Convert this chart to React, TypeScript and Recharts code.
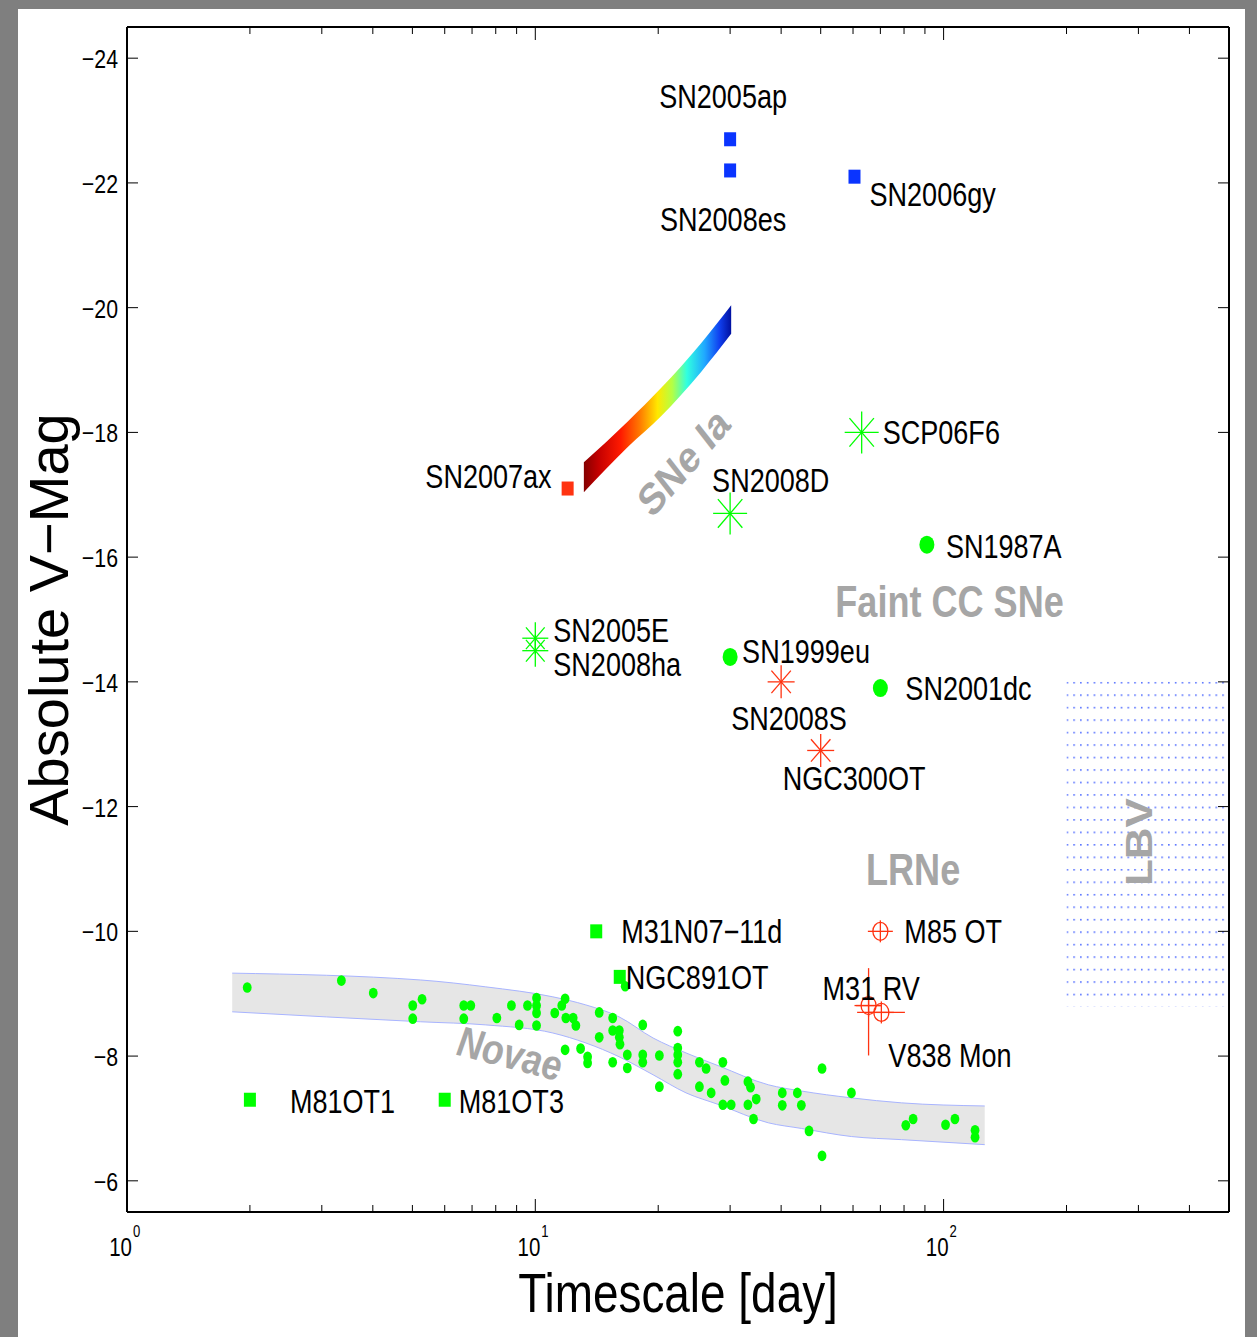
import React from "react";
import {
  ComposedChart,
  Area,
  Scatter,
  XAxis,
  YAxis,
  ReferenceArea,
  ErrorBar,
  Label,
} from "recharts";

const GREEN = "#00ff00";
const RED = "#ff3311";
const BLUE = "#0a34ff";
const REGION_GREY = "#a6a6a6";
const FONT = '"Liberation Sans", Arial, Helvetica, sans-serif';
// Helvetica-style lettering is drawn horizontally condensed
const SQUEEZE = 0.82;

// axis ticks (log x with minor ticks, reversed magnitude y)
const xTicks = [1, 2, 3, 4, 5, 6, 7, 8, 9, 10, 20, 30, 40, 50, 60, 70, 80, 90, 100, 200, 300, 400, 500];
const xMajor = [1, 10, 100];
const yTicks = [-24, -22, -20, -18, -16, -14, -12, -10, -8, -6];

// superluminous SNe
const superluminous = [
  { name: "SN2005ap", t: 30, mag: -22.7 },
  { name: "SN2008es", t: 30, mag: -22.2 },
  { name: "SN2006gy", t: 60.5, mag: -22.1 },
];

const sn2007ax = [{ name: "SN2007ax", t: 12, mag: -17.1 }];

const brightStars = [
  { name: "SCP06F6", t: 63, mag: -18.0 },
  { name: "SN2008D", t: 30, mag: -16.7 },
];

const faintStars = [
  { name: "SN2005E", t: 10, mag: -14.7 },
  { name: "SN2008ha", t: 10, mag: -14.5 },
];

const ccDots = [
  { name: "SN1987A", t: 91, mag: -16.2 },
  { name: "SN1999eu", t: 30, mag: -14.4 },
  { name: "SN2001dc", t: 70, mag: -13.9 },
];

const redStars = [
  { name: "SN2008S", t: 40, mag: -14.0 },
  { name: "NGC300OT", t: 50, mag: -12.9 },
];

const greenSquares = [
  { name: "M31N07\u221211d", t: 14.1, mag: -10.0 },
  { name: "NGC891OT", t: 16.1, mag: -9.27 },
  { name: "M81OT1", t: 2.0, mag: -7.3 },
  { name: "M81OT3", t: 6.0, mag: -7.3 },
];

// luminous red novae, with errors [minus, plus]
const lrne = [
  { name: "M85 OT", t: 70, mag: -10.0, tErr: [0, 0], magErr: [0, 0] },
  { name: "M31 RV", t: 65.5, mag: -8.81, tErr: [5, 5], magErr: [0.6, 0.8] },
  { name: "V838 Mon", t: 70.4, mag: -8.7, tErr: [9, 10], magErr: [0, 0] },
];

// classical novae
const novae = [
  { t: 1.97, mag: -9.1 }, { t: 3.35, mag: -9.21 }, { t: 4.01, mag: -9.01 },
  { t: 5.01, mag: -8.81 }, { t: 5.28, mag: -8.91 }, { t: 5.01, mag: -8.6 },
  { t: 6.68, mag: -8.81 }, { t: 6.95, mag: -8.81 }, { t: 6.68, mag: -8.6 },
  { t: 8.05, mag: -8.61 }, { t: 8.74, mag: -8.81 }, { t: 9.13, mag: -8.5 },
  { t: 9.57, mag: -8.81 }, { t: 10.07, mag: -8.93 }, { t: 10.07, mag: -8.81 },
  { t: 10.07, mag: -8.69 }, { t: 10.07, mag: -8.49 }, { t: 11.83, mag: -8.92 },
  { t: 11.61, mag: -8.81 }, { t: 11.16, mag: -8.69 }, { t: 11.88, mag: -8.61 },
  { t: 12.38, mag: -8.61 }, { t: 12.57, mag: -8.49 }, { t: 11.83, mag: -8.1 },
  { t: 12.91, mag: -8.12 }, { t: 13.43, mag: -7.99 }, { t: 13.43, mag: -7.89 },
  { t: 14.34, mag: -8.7 }, { t: 14.34, mag: -8.3 }, { t: 15.47, mag: -8.61 },
  { t: 15.47, mag: -8.41 }, { t: 16.06, mag: -8.41 }, { t: 16.06, mag: -8.3 },
  { t: 16.12, mag: -8.19 }, { t: 15.47, mag: -7.9 }, { t: 16.8, mag: -8.02 },
  { t: 16.8, mag: -7.81 }, { t: 16.6, mag: -9.12 }, { t: 18.33, mag: -8.5 },
  { t: 18.33, mag: -8.02 }, { t: 18.33, mag: -7.9 }, { t: 20.13, mag: -8.01 },
  { t: 20.13, mag: -7.51 }, { t: 22.33, mag: -8.4 }, { t: 22.33, mag: -8.13 },
  { t: 22.33, mag: -8.02 }, { t: 22.33, mag: -7.9 }, { t: 22.33, mag: -7.71 },
  { t: 25.23, mag: -7.9 }, { t: 26.2, mag: -7.8 }, { t: 25.23, mag: -7.51 },
  { t: 26.96, mag: -7.41 }, { t: 28.8, mag: -7.9 }, { t: 29.13, mag: -7.61 },
  { t: 28.8, mag: -7.22 }, { t: 30.18, mag: -7.22 }, { t: 33.17, mag: -7.59 },
  { t: 33.66, mag: -7.5 }, { t: 34.76, mag: -7.31 }, { t: 33.17, mag: -7.22 },
  { t: 34.23, mag: -6.99 }, { t: 40.26, mag: -7.41 }, { t: 40.26, mag: -7.21 },
  { t: 43.83, mag: -7.41 }, { t: 44.83, mag: -7.21 }, { t: 46.82, mag: -6.8 },
  { t: 50.38, mag: -7.8 }, { t: 50.38, mag: -6.4 }, { t: 59.46, mag: -7.41 },
  { t: 80.8, mag: -6.89 }, { t: 84.2, mag: -6.99 }, { t: 101.1, mag: -6.9 },
  { t: 106.6, mag: -6.99 }, { t: 119.4, mag: -6.81 }, { t: 119.4, mag: -6.7 },
];

// novae locus: [faint edge, bright edge]
const novaeBand = [
  { t: 1.81, range: [-8.71, -9.33] },
  { t: 5.24, range: [-8.55, -9.22] },
  { t: 7.56, range: [-8.5, -9.11] },
  { t: 11.04, range: [-8.37, -8.95] },
  { t: 13.3, range: [-8.21, -8.82] },
  { t: 16.03, range: [-7.99, -8.63] },
  { t: 19.43, range: [-7.7, -8.29] },
  { t: 23.4, range: [-7.41, -8.05] },
  { t: 28.2, range: [-7.22, -7.84] },
  { t: 37.21, range: [-6.93, -7.54] },
  { t: 44.83, range: [-6.84, -7.44] },
  { t: 59.46, range: [-6.71, -7.33] },
  { t: 78.86, range: [-6.66, -7.25] },
  { t: 126.1, range: [-6.58, -7.2] },
];

// SNe Ia width-luminosity strip
const iaBand = [
  { t: 13.15, range: [-17.04, -17.52] },
  { t: 16.87, range: [-17.77, -18.18] },
  { t: 20.32, range: [-18.26, -18.71] },
  { t: 25.47, range: [-18.97, -19.43] },
  { t: 30.18, range: [-19.58, -20.04] },
];

const regionLabels = [
  { text: "SNe Ia", t: 23.1, mag: -17.52 },
  { text: "Faint CC SNe", t: 103.4, mag: -15.28 },
  { text: "LRNe", t: 84.2, mag: -10.98 },
  { text: "Novae", t: 8.66, mag: -8.05 },
];

const regionStyle: Record<string, { angle: number; size: number; italic: boolean }> = {
  "SNe Ia": { angle: -43.5, size: 44, italic: false },
  "Faint CC SNe": { angle: 0, size: 44, italic: false },
  LRNe: { angle: 0, size: 44, italic: false },
  Novae: { angle: 12, size: 43, italic: true },
};

// text offsets from each marker, in px
const labelPlacement: Record<string, { dx: number; dy: number; anchor: "start" | "middle" | "end" }> = {
  SN2005ap: { dx: -7, dy: -31, anchor: "middle" },
  SN2008es: { dx: -7, dy: 61, anchor: "middle" },
  SN2006gy: { dx: 15, dy: 29, anchor: "start" },
  SN2007ax: { dx: -16, dy: -1, anchor: "end" },
  SCP06F6: { dx: 21, dy: 12, anchor: "start" },
  SN2008D: { dx: -18, dy: -21, anchor: "start" },
  SN1987A: { dx: 19, dy: 13, anchor: "start" },
  SN2005E: { dx: 18, dy: 4, anchor: "start" },
  SN2008ha: { dx: 18, dy: 25, anchor: "start" },
  SN1999eu: { dx: 12, dy: 6, anchor: "start" },
  SN2008S: { dx: -50, dy: 48, anchor: "start" },
  SN2001dc: { dx: 25, dy: 12, anchor: "start" },
  NGC300OT: { dx: -38, dy: 40, anchor: "start" },
  "M31N07\u221211d": { dx: 25, dy: 12, anchor: "start" },
  NGC891OT: { dx: 6, dy: 12, anchor: "start" },
  "M85 OT": { dx: 24, dy: 12, anchor: "start" },
  "M31 RV": { dx: -46, dy: -6, anchor: "start" },
  "V838 Mon": { dx: 7, dy: 55, anchor: "start" },
  M81OT1: { dx: 40, dy: 13, anchor: "start" },
  M81OT3: { dx: 14, dy: 13, anchor: "start" },
};

// condensed text anchored at (x, y), optionally rotated before squeezing
const NText = ({ x, y, size, anchor = "start", angle = 0, children, ...rest }: any) => (
  <text
    transform={`translate(${x} ${y}) scale(${SQUEEZE} 1)${angle ? ` rotate(${angle})` : ""}`}
    x={0}
    y={0}
    textAnchor={anchor}
    fontFamily={FONT}
    fontSize={size}
    {...rest}
  >
    {children}
  </text>
);

const pointLabel = (name: string, cx: number, cy: number) => {
  const p = labelPlacement[name];
  if (!p) return null;
  return (
    <NText x={cx + p.dx} y={cy + p.dy} anchor={p.anchor} size={33} fill="#000">
      {name}
    </NText>
  );
};

const square = (color: string) => (props: any) => {
  const { cx, cy, payload } = props;
  return (
    <g>
      <rect x={cx - 6} y={cy - 7} width={12} height={14} fill={color} />
      {pointLabel(payload.name, cx, cy)}
    </g>
  );
};

const dot = (rx: number, ry: number) => (props: any) => {
  const { cx, cy, payload } = props;
  return (
    <g>
      <ellipse cx={cx} cy={cy} rx={rx} ry={ry} fill={GREEN} />
      {payload.name ? pointLabel(payload.name, cx, cy) : null}
    </g>
  );
};

const asterisk = (color: string, w: number, h: number) => (props: any) => {
  const { cx, cy, payload } = props;
  const dx = w * 0.72;
  const dy = h * 0.68;
  return (
    <g>
      <g stroke={color} strokeWidth={1.3}>
        <line x1={cx - w} y1={cy} x2={cx + w} y2={cy} />
        <line x1={cx} y1={cy - h} x2={cx} y2={cy + h} />
        <line x1={cx - dx} y1={cy - dy} x2={cx + dx} y2={cy + dy} />
        <line x1={cx - dx} y1={cy + dy} x2={cx + dx} y2={cy - dy} />
      </g>
      {pointLabel(payload.name, cx, cy)}
    </g>
  );
};

const circlePlus = (props: any) => {
  const { cx, cy, payload } = props;
  return (
    <g>
      <g stroke={RED} strokeWidth={1.3} fill="none">
        <ellipse cx={cx} cy={cy} rx={7.5} ry={9} />
        <line x1={cx - 12.5} y1={cy} x2={cx + 12.5} y2={cy} />
        <line x1={cx} y1={cy - 11} x2={cx} y2={cy + 11} />
      </g>
      {pointLabel(payload.name, cx, cy)}
    </g>
  );
};

const regionText = (props: any) => {
  const { cx, cy, payload } = props;
  const s = regionStyle[payload.text];
  return (
    <NText
      x={cx}
      y={cy}
      angle={s.angle}
      anchor="middle"
      size={s.size}
      dominantBaseline="central"
      fontWeight="bold"
      fontStyle={s.italic ? "italic" : "normal"}
      fill={REGION_GREY}
    >
      {payload.text}
    </NText>
  );
};

const minus = (v: number) => (v < 0 ? `\u2212${Math.abs(v)}` : `${v}`);

const BottomTick = (props: any) => {
  const { x, y, payload } = props;
  const major = xMajor.includes(payload.value);
  return (
    <g>
      <line x1={x} y1={y} x2={x} y2={y - (major ? 13 : 7)} stroke="#000" strokeWidth={1} />
      {major && (
        <g fill="#000">
          <NText x={x + 5} y={y + 44} anchor="end" size={25}>10</NText>
          <NText x={x + 6} y={y + 25} anchor="start" size={16}>
            {Math.round(Math.log10(payload.value))}
          </NText>
        </g>
      )}
    </g>
  );
};

const TopTick = (props: any) => {
  const { x, y, payload } = props;
  const major = xMajor.includes(payload.value);
  return <line x1={x} y1={y} x2={x} y2={y + (major ? 13 : 7)} stroke="#000" strokeWidth={1} />;
};

const LeftTick = (props: any) => {
  const { x, y, payload } = props;
  return (
    <g>
      <line x1={x} y1={y} x2={x + 11} y2={y} stroke="#000" strokeWidth={1} />
      <NText x={x - 9} y={y + 10} anchor="end" size={26} fill="#000">
        {minus(payload.value)}
      </NText>
    </g>
  );
};

const RightTick = (props: any) => {
  const { x, y } = props;
  return <line x1={x} y1={y} x2={x - 11} y2={y} stroke="#000" strokeWidth={1} />;
};

const XTitle = (props: any) => {
  const { x, y, width } = props.viewBox;
  return (
    <NText x={x + width / 2} y={y + 100} anchor="middle" size={56} fill="#000">
      Timescale [day]
    </NText>
  );
};

const YTitle = (props: any) => {
  const { x, y, height } = props.viewBox;
  const bx = x + 41;
  const by = y + height / 2;
  return (
    <text x={bx} y={by} transform={`rotate(-90 ${bx} ${by})`} textAnchor="middle" fontFamily={FONT} fontSize={56} fill="#000">
      Absolute V{"\u2212"}Mag
    </text>
  );
};

const LbvTitle = (props: any) => {
  const { x, y, width, height } = props.viewBox;
  return (
    <NText
      x={x + width / 2 - 8}
      y={y + height / 2 - 2}
      angle={-90}
      anchor="middle"
      size={44}
      dominantBaseline="central"
      fontWeight="bold"
      fill={REGION_GREY}
    >
      LBV
    </NText>
  );
};

export default function App() {
  return (
    <div style={{ position: "absolute", left: 0, top: 0, width: 1257, height: 1337, background: "#7f7f7f", overflow: "hidden" }}>
      <div style={{ position: "absolute", left: 18, top: 9, width: 1227, height: 1328, background: "#fff" }} />
      <div style={{ position: "absolute", left: 0, top: 0 }}>
        <ComposedChart width={1257} height={1337} margin={{ top: 26, right: 27, bottom: 65, left: 27 }}>
          <defs>
            <linearGradient id="iaJet" x1="0" y1="0" x2="1" y2="0">
              <stop offset="0" stopColor="#840000" />
              <stop offset="0.1" stopColor="#c40000" />
              <stop offset="0.25" stopColor="#ff1a00" />
              <stop offset="0.38" stopColor="#ff7a00" />
              <stop offset="0.5" stopColor="#ffe800" />
              <stop offset="0.6" stopColor="#b4ff44" />
              <stop offset="0.7" stopColor="#30ffe0" />
              <stop offset="0.82" stopColor="#20a8ff" />
              <stop offset="0.92" stopColor="#1040f0" />
              <stop offset="1" stopColor="#0010a0" />
            </linearGradient>
            <pattern id="lbvDots" patternUnits="objectBoundingBox" width={1 / 24} height={1 / 26}>
              <rect x={0} y={0} width={1.6} height={1.6} fill="#2a4cff" fillOpacity={0.8} />
            </pattern>
          </defs>

          <XAxis
            dataKey="t"
            type="number"
            scale="log"
            domain={[1, 500]}
            allowDataOverflow
            ticks={xTicks}
            interval={0}
            tickSize={0}
            tickMargin={0}
            tickLine={false}
            tick={(p: any) => <BottomTick {...p} />}
            axisLine={{ stroke: "#000", strokeWidth: 2 }}
            height={60}
          >
            <Label content={XTitle} />
          </XAxis>
          <XAxis
            xAxisId="top"
            orientation="top"
            dataKey="t"
            type="number"
            scale="log"
            domain={[1, 500]}
            allowDataOverflow
            ticks={xTicks}
            interval={0}
            tickSize={0}
            tickMargin={0}
            tickLine={false}
            tick={(p: any) => <TopTick {...p} />}
            axisLine={{ stroke: "#000", strokeWidth: 2 }}
            height={1}
          />
          <YAxis
            type="number"
            domain={[-24.5, -5.5]}
            reversed
            allowDataOverflow
            ticks={yTicks}
            interval={0}
            tickSize={0}
            tickMargin={0}
            tickLine={false}
            tick={(p: any) => <LeftTick {...p} />}
            axisLine={{ stroke: "#000", strokeWidth: 2 }}
            width={100}
          >
            <Label content={YTitle} />
          </YAxis>
          <YAxis
            yAxisId="right"
            orientation="right"
            type="number"
            domain={[-24.5, -5.5]}
            reversed
            allowDataOverflow
            ticks={yTicks}
            interval={0}
            tickSize={0}
            tickMargin={0}
            tickLine={false}
            tick={(p: any) => <RightTick {...p} />}
            axisLine={{ stroke: "#000", strokeWidth: 2 }}
            width={1}
          />

          <ReferenceArea
            x1={200}
            x2={500}
            y1={-14}
            y2={-8.8}
            fill="url(#lbvDots)"
            fillOpacity={1}
            stroke="none"
            label={LbvTitle}
          />

          <Area
            data={novaeBand}
            dataKey="range"
            type="monotone"
            fill="#e6e6e6"
            fillOpacity={1}
            stroke="#a8b4ff"
            strokeWidth={1}
            isAnimationActive={false}
          />
          <Area
            data={iaBand}
            dataKey="range"
            type="monotone"
            fill="url(#iaJet)"
            fillOpacity={1}
            stroke="none"
            isAnimationActive={false}
          />

          <Scatter data={regionLabels} dataKey="mag" shape={regionText} isAnimationActive={false} />

          <Scatter data={novae} dataKey="mag" shape={dot(4.4, 5.3)} isAnimationActive={false} />
          <Scatter data={superluminous} dataKey="mag" shape={square(BLUE)} isAnimationActive={false} />
          <Scatter data={sn2007ax} dataKey="mag" shape={square(RED)} isAnimationActive={false} />
          <Scatter data={greenSquares} dataKey="mag" shape={square(GREEN)} isAnimationActive={false} />
          <Scatter data={brightStars} dataKey="mag" shape={asterisk(GREEN, 17, 21)} isAnimationActive={false} />
          <Scatter data={faintStars} dataKey="mag" shape={asterisk(GREEN, 13, 16)} isAnimationActive={false} />
          <Scatter data={ccDots} dataKey="mag" shape={dot(7.5, 9)} isAnimationActive={false} />
          <Scatter data={redStars} dataKey="mag" shape={asterisk(RED, 13.5, 16.5)} isAnimationActive={false} />
          <Scatter data={lrne} dataKey="mag" shape={circlePlus} isAnimationActive={false}>
            <ErrorBar dataKey="tErr" direction="x" width={0} stroke={RED} strokeWidth={1.3} />
            <ErrorBar dataKey="magErr" direction="y" width={0} stroke={RED} strokeWidth={1.3} />
          </Scatter>
        </ComposedChart>
      </div>
    </div>
  );
}
